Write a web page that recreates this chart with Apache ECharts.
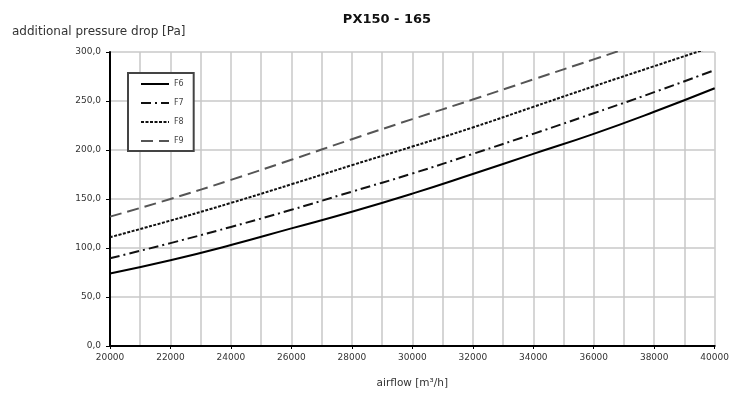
<!DOCTYPE html>
<html><head><meta charset="utf-8">
<script src="https://cdn.jsdelivr.net/npm/echarts@6/dist/echarts.min.js"></script>
<style>html,body{margin:0;padding:0;background:#fff;overflow:hidden}#c{width:732px;height:394px}</style>
</head><body><div id="c"></div>
<script>
const airflow = [20000,22000,24000,26000,28000,30000,32000,34000,36000,38000,40000];
const F6 = [74,87.5,103,120,137,155.5,175.5,196,216.5,239,263];
const F7 = [89.5,105,121.5,139,157.5,176,196,216.5,237.5,259,281.5];
const F8 = [111,128,146,165,184.5,203.5,223,244,265,285.5,306];
const F9 = [132,150,169.5,190,211,231.5,251.5,272,292.5,313,333.5];
const seriesNames = ['F6','F7','F8','F9'];
const titleText = 'PX150 - 165';
const yName = 'additional pressure drop [Pa]';
const xName = 'airflow [m³/h]';

const styles = [
  {color:'#000', type:'solid', width:2},
  {color:'#111', type:[10,4,2,4], width:2},
  {color:'#111', type:[3,1.5], width:2},
  {color:'#555', type:[12,6], width:2}
];
const vals = [F6,F7,F8,F9];
const chart = echarts.init(document.getElementById('c'));
chart.setOption({
  animation:false,
  backgroundColor:'#fff',
  title:[
    {text:titleText, left:382, top:8, textAlign:'center',
     textStyle:{fontFamily:'DejaVu Sans', fontWeight:'bold', fontSize:13, color:'#111'}},
    {text:yName, left:12, top:26, padding:0,
     textStyle:{fontFamily:'DejaVu Sans', fontWeight:'normal', fontSize:12, color:'#333'}}
  ],
  legend:{
    orient:'vertical', left:128, top:73, itemWidth:28, itemHeight:10, itemGap:11,
    padding:[7,10,6,12], borderColor:'#444', borderWidth:2, backgroundColor:'#fff',
    itemStyle:{opacity:0},
    textStyle:{fontFamily:'DejaVu Sans', fontSize:8, color:'#444'},
    data:seriesNames
  },
  grid:{left:110, right:16, top:52, bottom:46},
  xAxis:{
    type:'value', min:20000, max:40000, interval:2000,
    name:xName, nameLocation:'middle', nameGap:32,
    nameTextStyle:{fontFamily:'DejaVu Sans', fontSize:10.5, color:'#333'},
    axisLine:{show:true, onZero:false, lineStyle:{color:'#000', width:2}},
    axisTick:{show:true, length:3, lineStyle:{color:'#000'}},
    axisLabel:{fontFamily:'DejaVu Sans', fontSize:9, color:'#333', margin:7,
      formatter:v=>String(v)},
    splitLine:{show:true, lineStyle:{color:'#c8c8c8', width:1.5}},
    minorTick:{show:false, splitNumber:2},
    minorSplitLine:{show:true, lineStyle:{color:'#c8c8c8', width:1.5}}
  },
  yAxis:{
    type:'value', min:0, max:300, interval:50,
    axisLine:{show:true, lineStyle:{color:'#000', width:2}},
    axisTick:{show:true, length:4, lineStyle:{color:'#000'}},
    axisLabel:{fontFamily:'DejaVu Sans', fontSize:9, color:'#333', margin:9,
      formatter:v=>v.toFixed(1).replace('.',',')},
    splitLine:{show:true, lineStyle:{color:'#c8c8c8', width:1.5}}
  },
  series: seriesNames.map((n,i)=>({
    name:n, type:'line', symbol:'none', smooth:true, clip:true,
    data: airflow.map((x,j)=>[x, vals[i][j]]),
    lineStyle: styles[i], itemStyle:{color:styles[i].color}
  }))
});
</script></body></html>
